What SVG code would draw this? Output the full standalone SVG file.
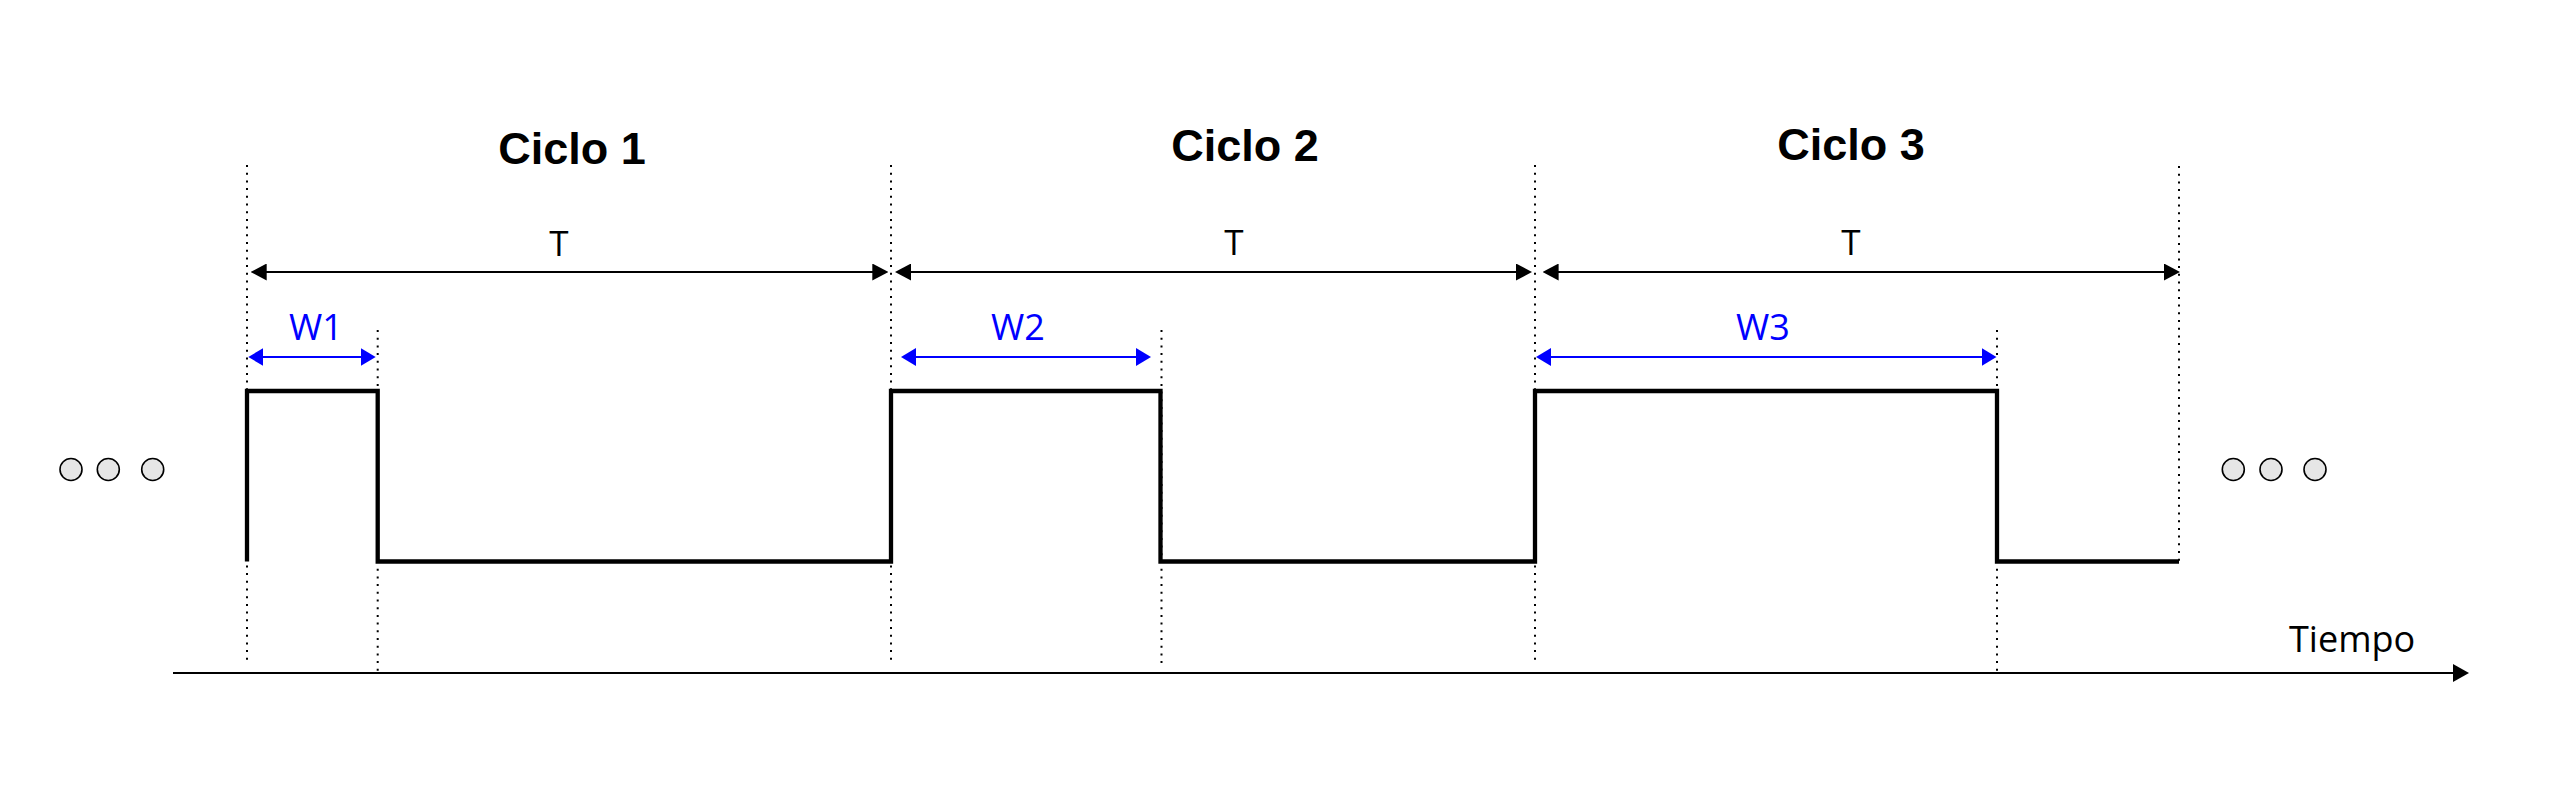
<svg xmlns="http://www.w3.org/2000/svg" width="2550" height="795" viewBox="0 0 2550 795">
<style>
.title{font-family:"Liberation Sans",Arial,sans-serif;font-weight:bold;font-size:45px;fill:#000;text-anchor:middle}
.lbl{font-family:"Open Sans","Noto Sans",sans-serif;font-size:35px;fill:#000;text-anchor:middle}
.wl{font-family:"Open Sans","Noto Sans",sans-serif;font-size:36px;fill:#0000ff;text-anchor:middle}
.guide{stroke:#000;stroke-width:2;stroke-dasharray:2 5.7;fill:none}
.dim{stroke:#000;stroke-width:2;fill:none;marker-start:url(#ah);marker-end:url(#ah)}
.wdim{stroke:#0000ff;stroke-width:2.2;fill:none;marker-start:url(#bh);marker-end:url(#bh)}
.dot{fill:#e6e6e6;stroke:#000;stroke-width:1.6}
</style>
<defs>
<marker id="ah" viewBox="0 0 16 17" markerWidth="16" markerHeight="17" refX="4" refY="8.5" orient="auto-start-reverse" markerUnits="userSpaceOnUse"><path d="M0,0 L16,8.5 L0,17 z" fill="#000"/></marker>
<marker id="bh" viewBox="0 0 15 18" markerWidth="15" markerHeight="18" refX="4" refY="9" orient="auto-start-reverse" markerUnits="userSpaceOnUse"><path d="M0,0 L15,9 L0,18 z" fill="#0000ff"/></marker>
<marker id="axh" viewBox="0 0 16 18" markerWidth="16" markerHeight="18" refX="4" refY="9" orient="auto" markerUnits="userSpaceOnUse"><path d="M0,0 L16,9 L0,18 z" fill="#000"/></marker>
</defs>
<rect width="2550" height="795" fill="#fff"/>
<g id="guides">
<line class="guide" x1="247" y1="165" x2="247" y2="661"/>
<line class="guide" x1="377.7" y1="330" x2="377.7" y2="671"/>
<line class="guide" x1="891" y1="165" x2="891" y2="661"/>
<line class="guide" x1="1161.5" y1="330" x2="1161.5" y2="665"/>
<line class="guide" x1="1535" y1="165" x2="1535" y2="661"/>
<line class="guide" x1="1997" y1="330" x2="1997" y2="671"/>
<line class="guide" x1="2179" y1="166" x2="2179" y2="561"/>
</g>
<g id="connectors">
<line class="dim" x1="262.7" y1="272" x2="876.3" y2="272"/>
<line class="dim" x1="907" y1="272" x2="1520" y2="272"/>
<line class="dim" x1="1554.6" y1="272" x2="2168" y2="272"/>
<line class="wdim" x1="259.3" y1="357" x2="364.7" y2="357"/>
<line class="wdim" x1="912" y1="357" x2="1140" y2="357"/>
<line class="wdim" x1="1547" y1="357" x2="1985.5" y2="357"/>
<line x1="173" y1="673" x2="2457" y2="673" stroke="#000" stroke-width="2" marker-end="url(#axh)"/>
</g>
<g id="signal">
<path d="M247 561.5 V391 H377.7 V561.5 H891 V391 H1160.5 V561.5 H1535 V391 H1997 V561.5 H2179" fill="none" stroke="#000" stroke-width="4.3" stroke-linejoin="miter"/>
</g>
<g id="ciclo1"><text class="title" x="572" y="164">Ciclo 1</text></g>
<g id="ciclo2"><text class="title" x="1245" y="161">Ciclo 2</text></g>
<g id="ciclo3"><text class="title" x="1851" y="160">Ciclo 3</text></g>
<g id="t1"><text class="lbl" x="559" y="256">T</text></g>
<g id="t2"><text class="lbl" x="1234" y="255">T</text></g>
<g id="t3"><text class="lbl" x="1851" y="255">T</text></g>
<g id="w1"><text class="wl" x="316" y="340">W1</text></g>
<g id="w2"><text class="wl" x="1018" y="340">W2</text></g>
<g id="w3"><text class="wl" x="1763" y="340">W3</text></g>
<g id="tiempo"><text class="lbl" x="2289" y="652" style="text-anchor:start;font-size:36px">Tiempo</text></g>
<g id="dots-left">
<circle class="dot" cx="71" cy="469.5" r="11"/>
<circle class="dot" cx="108.3" cy="469.5" r="11"/>
<circle class="dot" cx="152.7" cy="469.5" r="11"/>
</g>
<g id="dots-right">
<circle class="dot" cx="2233.3" cy="469.5" r="11"/>
<circle class="dot" cx="2271" cy="469.5" r="11"/>
<circle class="dot" cx="2315" cy="469.5" r="11"/>
</g>
</svg>
